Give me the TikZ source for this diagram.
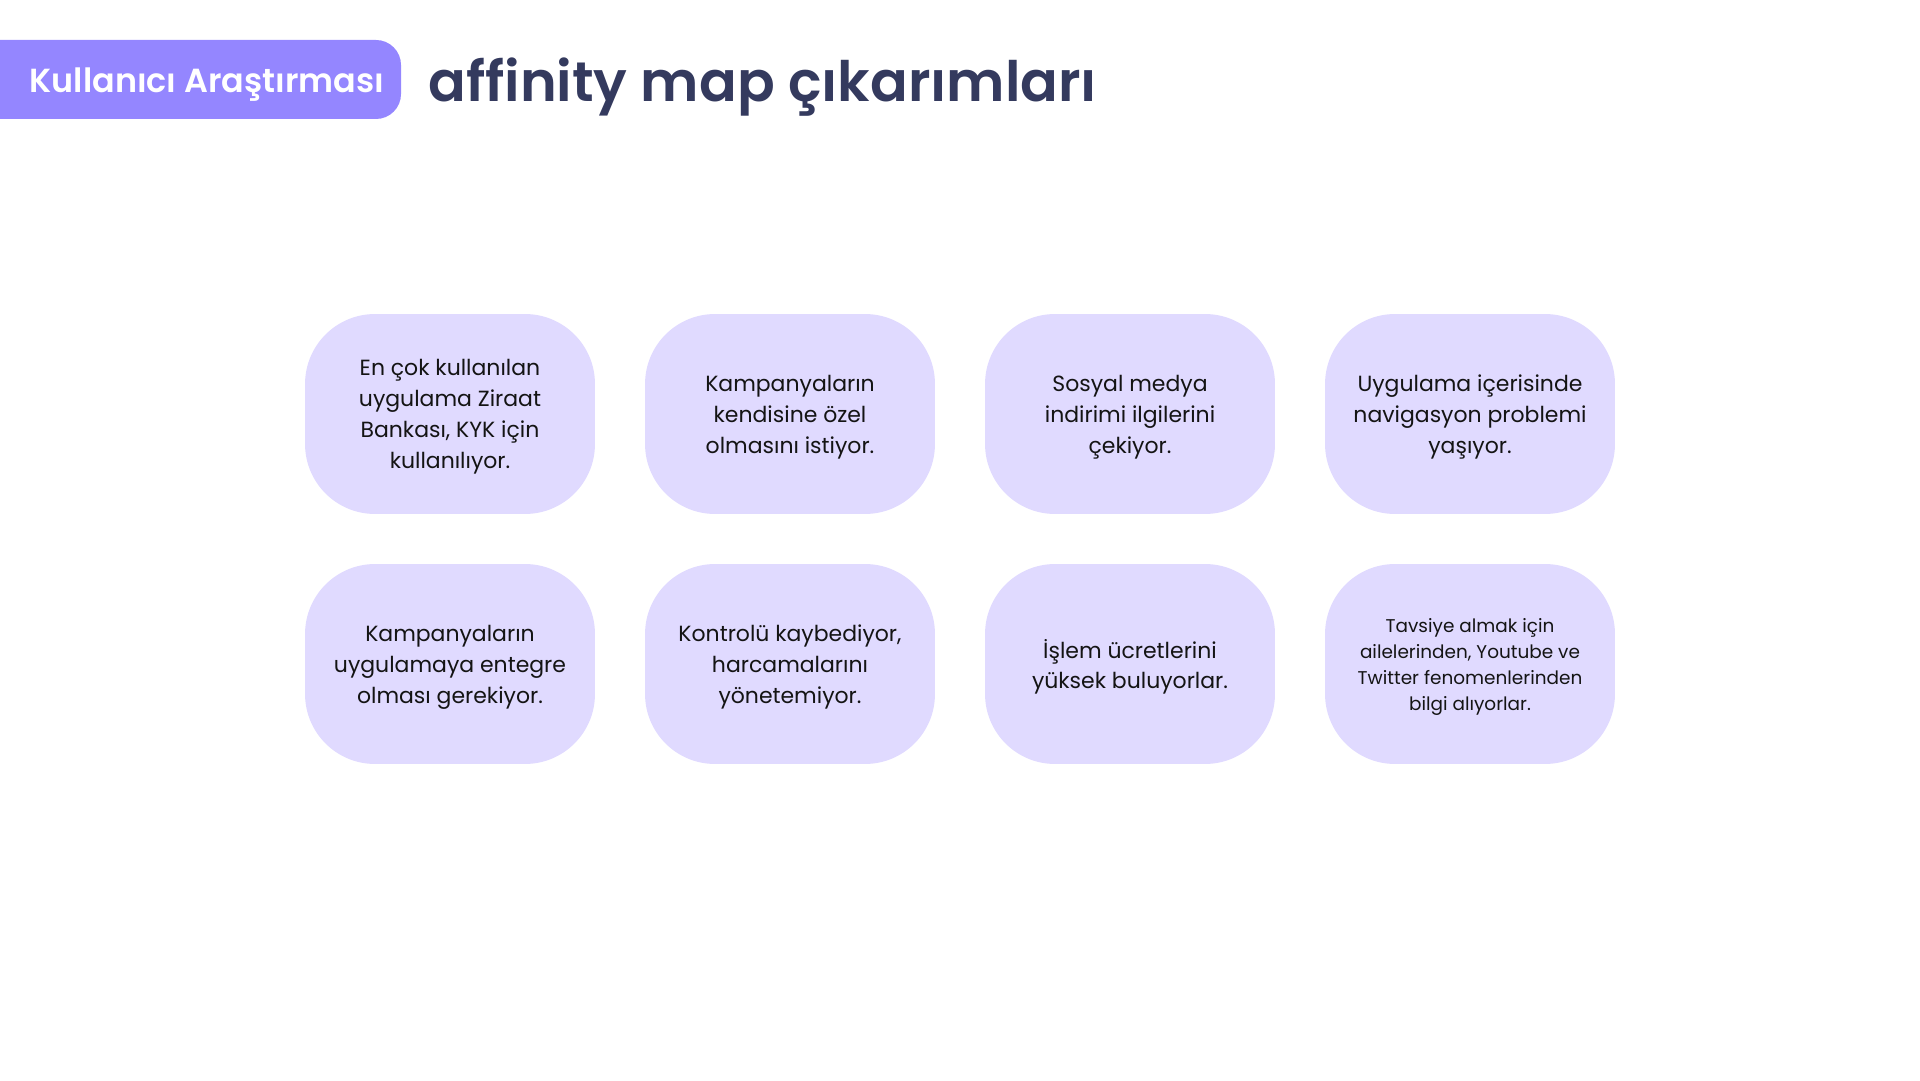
\documentclass[tikz,border=0pt]{standalone}
\usepackage{fontspec}
\setmainfont{Poppins}
\newfontfamily\headfont{Poppins}[UprightFont=* SemiBold]
\definecolor{tagpurple}{RGB}{148,134,255}
\definecolor{cardlilac}{RGB}{224,218,255}
\definecolor{titlenavy}{RGB}{52,58,94}
\tikzset{
  card/.style={fill=cardlilac, rounded corners=1.4cm, minimum width=5.8cm,
    minimum height=4cm, inner sep=0pt, align=center, text=black!92,
    text depth=-2.7pt, font=\fontsize{12.5}{17.6}\selectfont},
  smallcard/.style={card, text depth=-1.7pt, font=\fontsize{10.5}{14.8}\selectfont},
}
\begin{document}
\begin{tikzpicture}[x=0.02cm, y=0.02cm]
  \useasboundingbox (0,0) rectangle (1920,1080);

  % Header tag at the top left
  \fill [tagpurple, rounded corners=0.5cm] (-40,961) rectangle (401,1040);%
  \node [anchor=base, inner sep=0pt, text=white, font=\headfont\fontsize{19}{21}\selectfont] (tag) at (207,987) {Kullanıcı Araştırması};%

  % Title beside the tag
  \node [anchor=base west, inner sep=0pt, text=titlenavy, font=\headfont\fontsize{31.7}{34}\selectfont] (title) at (428,978) {affinity map çıkarımları};%

  % First row of cards
  \node [card] (usage) at (450,666) {En çok kullanılan\\uygulama Ziraat\\Bankası, KYK için\\kullanılıyor.};%
  \node [card] (special) at (790,666) {Kampanyaların\\kendisine özel\\olmasını istiyor.};%
  \node [card] (social) at (1130,666) {Sosyal medya\\indirimi ilgilerini\\çekiyor.};%
  \node [card] (navigation) at (1470,666) {Uygulama içerisinde\\navigasyon problemi\\yaşıyor.};%

  % Second row of cards
  \node [card] (integrate) at (450,416) {Kampanyaların\\uygulamaya entegre\\olması gerekiyor.};%
  \node [card] (control) at (790,416) {Kontrolü kaybediyor,\\harcamalarını\\yönetemiyor.};%
  \node [card] (fees) at (1130,416) {İşlem ücretlerini\\yüksek buluyorlar.};%
  \node [smallcard] (advice) at (1470,416) {Tavsiye almak için\\ailelerinden, Youtube ve\\Twitter fenomenlerinden\\bilgi alıyorlar.};%
\end{tikzpicture}
\end{document}
